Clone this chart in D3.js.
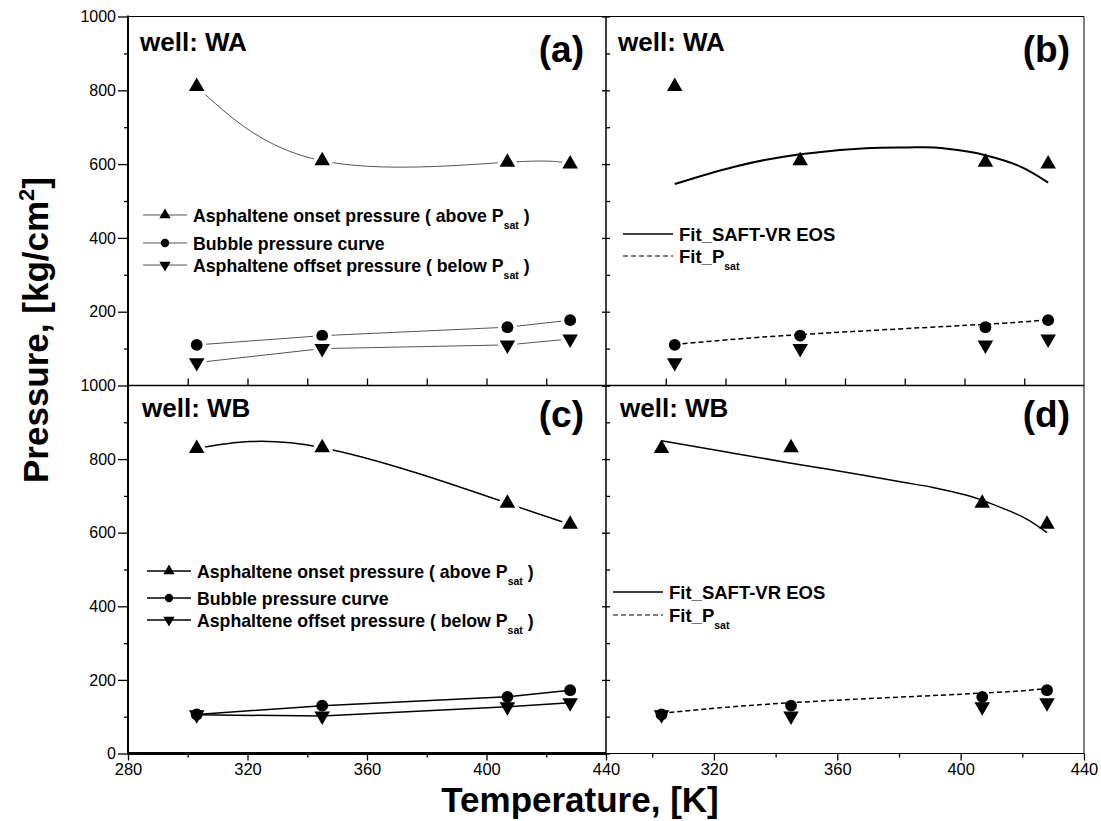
<!DOCTYPE html>
<html>
<head>
<meta charset="utf-8">
<script src="https://cdn.jsdelivr.net/npm/d3@7"></script>
<style>
  body { margin: 0; background: #fff; }
  text { font-family: "Liberation Sans", Arial, sans-serif; }
</style>
</head>
<body>
<script>
// measured temperatures (K)
const temps = [303, 345, 407, 428];

// well WA
const waOnset = [810, 609, 605, 600];
const waBubble = [110, 135, 158, 177];
const waOffset = [62, 100, 110, 126];

// well WB
const wbOnset = [829, 831, 680, 623];
const wbBubble = [106, 130, 154, 172];
const wbOffset = [105, 102, 127, 138];

// fitted curves
const waSaftT = [303, 323, 345, 367, 381, 390, 401, 407, 418, 428];
const waSaftP = [546, 593, 627, 643, 645, 645, 634, 624, 596, 550];
const waPsatFit = [111, 138, 166, 179];

const wbSaftT = [303, 325, 345, 359, 380, 391, 402, 407, 415, 422, 428];
const wbSaftP = [850, 818, 789, 770, 739, 723, 702, 688, 662, 634, 600];
const wbPsatFit = [109, 138, 164, 177];

const yMajor = [0, 200, 400, 600, 800, 1000];
const yMinor = [100, 300, 500, 700, 900];

const W = 1101, H = 821;
const svg = d3.select("body").append("svg")
  .attr("width", W).attr("height", H);

const xL = d3.scaleLinear().domain([280, 440]).range([128, 606]);
const xRT = d3.scaleLinear().domain([280, 440]).range([606, 1084]);
const xRB = d3.scaleLinear().domain([285, 440]).range([606, 1084]);
const yT = d3.scaleLinear().domain([0, 1000]).range([385.5, 16.5]);
const yB = d3.scaleLinear().domain([0, 1000]).range([753.5, 385.5]);

function marker(g, type, x, y, size, halo) {
  const sym = type === "circle" ? d3.symbol(d3.symbolCircle, size) : d3.symbol(d3.symbolTriangle, size);
  const rot = type === "down" ? " rotate(180)" : "";
  const m = g.append("path")
    .attr("d", sym())
    .attr("transform", `translate(${x},${y})${rot}`)
    .attr("fill", "#000");
  if (halo) {
    m.attr("stroke", "#fff").attr("stroke-width", 7).style("paint-order", "stroke");
  }
}

function drawLine(g, xs, ys, x, y, opt) {
  const line = d3.line()
    .x((d, i) => x(xs[i]))
    .y(d => y(d))
    .curve(opt.curve || d3.curveLinear);
  g.append("path")
    .datum(ys)
    .attr("d", line)
    .attr("fill", "none")
    .attr("stroke", opt.color || "#000")
    .attr("stroke-width", opt.width || 1)
    .attr("stroke-dasharray", opt.dash || null);
}

function drawPoints(g, vals, type, x, y, halo) {
  vals.forEach((v, i) => marker(g, type, x(temps[i]), y(v), type === "circle" ? 110 : 105, halo));
}

// ---------- data layers ----------
const plot = svg.append("g");

// (a)
drawLine(plot, temps, waOnset, xL, yT, {curve: d3.curveNatural, color: "#555", width: 1});
drawLine(plot, temps, waBubble, xL, yT, {color: "#555", width: 1});
drawLine(plot, temps, waOffset, xL, yT, {color: "#555", width: 1});
drawPoints(plot, waOnset, "up", xL, yT, true);
drawPoints(plot, waBubble, "circle", xL, yT, true);
drawPoints(plot, waOffset, "down", xL, yT, true);

// (b)
drawPoints(plot, waOnset, "up", xRT, yT, false);
drawPoints(plot, waBubble, "circle", xRT, yT, false);
drawPoints(plot, waOffset, "down", xRT, yT, false);
drawLine(plot, waSaftT, waSaftP, xRT, yT, {curve: d3.curveNatural, width: 2});
drawLine(plot, temps, waPsatFit, xRT, yT, {curve: d3.curveNatural, width: 1.5, dash: "5,3"});

// (c)
drawLine(plot, temps, wbOnset, xL, yB, {curve: d3.curveNatural, width: 1.5});
drawLine(plot, temps, wbBubble, xL, yB, {width: 1.5});
drawLine(plot, temps, wbOffset, xL, yB, {width: 1.5});
drawPoints(plot, wbOnset, "up", xL, yB, true);
drawPoints(plot, wbBubble, "circle", xL, yB, false);
drawPoints(plot, wbOffset, "down", xL, yB, false);

// (d)
drawPoints(plot, wbOnset, "up", xRB, yB, false);
drawPoints(plot, wbBubble, "circle", xRB, yB, false);
drawPoints(plot, wbOffset, "down", xRB, yB, false);
drawLine(plot, wbSaftT, wbSaftP, xRB, yB, {curve: d3.curveNatural, width: 1.5});
drawLine(plot, temps, wbPsatFit, xRB, yB, {curve: d3.curveNatural, width: 1.5, dash: "5,3"});

// ---------- frame ----------
const frame = svg.append("g").attr("stroke", "#000").attr("fill", "none");
function seg(x1, y1, x2, y2, w) {
  frame.append("line").attr("x1", x1).attr("y1", y1).attr("x2", x2).attr("y2", y2).attr("stroke-width", w);
}
seg(128, 16.5, 1084, 16.5, 1);
seg(1084, 16.5, 1084, 753.5, 1);
seg(606, 16.5, 606, 753.5, 1.5);
seg(128, 385.5, 1084, 385.5, 1.5);
seg(606, 753.5, 1084, 753.5, 1);
seg(128, 753.5, 606, 753.5, 3);
seg(128, 15.5, 128, 755, 2);

// ---------- axes ----------
function axis(gen, transform, fontSize) {
  const g = svg.append("g").attr("transform", transform).call(gen);
  g.select(".domain").remove();
  g.selectAll(".tick line").attr("stroke", "#000").attr("stroke-width", 1.3);
  if (fontSize) {
    g.selectAll(".tick text").attr("fill", "#000").style("font-size", fontSize + "px")
      .style("font-family", "'Liberation Sans', Arial, sans-serif");
  } else {
    g.selectAll(".tick text").remove();
  }
  return g;
}
const fmt = d3.format("d");

// left y axes
axis(d3.axisLeft(yT).tickValues(yMajor.filter(v => v > 0)).tickSize(10).tickPadding(2).tickFormat(fmt), "translate(128,0)", 16);
axis(d3.axisLeft(yT).tickValues(yMinor).tickSize(4), "translate(128,0)");
axis(d3.axisLeft(yB).tickValues(yMajor).tickSize(10).tickPadding(2).tickFormat(fmt), "translate(128,0)", 16);
axis(d3.axisLeft(yB).tickValues(yMinor).tickSize(4), "translate(128,0)");

// middle divider ticks
[yT, yB].forEach(y => {
  axis(d3.axisRight(y).tickValues(yMajor.concat(yMinor)).tickSize(4), "translate(606,0)");
  axis(d3.axisLeft(y).tickValues(yMajor).tickSize(4), "translate(606,0)");
});

// top panels bottom axis: inward ticks
axis(d3.axisTop(xL).tickValues(d3.range(300, 440, 20)).tickSize(7), "translate(0,385.5)");
axis(d3.axisTop(xRT).tickValues(d3.range(300, 440, 20)).tickSize(7), "translate(0,385.5)");

// bottom axes
axis(d3.axisBottom(xL).tickValues([280, 320, 360, 400, 440]).tickSize(7).tickPadding(3).tickFormat(fmt), "translate(0,753.5)", 16.5);
axis(d3.axisBottom(xL).tickValues([300, 340, 380, 420]).tickSize(4), "translate(0,753.5)");
axis(d3.axisBottom(xRB).tickValues([320, 360, 400, 440]).tickSize(7).tickPadding(3).tickFormat(fmt), "translate(0,753.5)", 16.5);
axis(d3.axisBottom(xRB).tickValues([300, 340, 380, 420]).tickSize(4), "translate(0,753.5)");

// ---------- axis titles ----------
const yTitle = svg.append("text")
  .attr("transform", "translate(48,330) rotate(-90)")
  .attr("text-anchor", "middle")
  .style("font-size", "35px").style("font-weight", "bold");
yTitle.append("tspan").text("Pressure, [kg/cm");
yTitle.append("tspan").attr("dy", -14).style("font-size", "22px").text("2");
yTitle.append("tspan").attr("dy", 14).text("]");

svg.append("text")
  .attr("x", 580).attr("y", 812)
  .attr("text-anchor", "middle")
  .style("font-size", "35px").style("font-weight", "bold")
  .text("Temperature, [K]");

// ---------- panel labels ----------
const panelText = [
  {well: "well: WA", tag: "(a)", wx: 140, wy: 51, tx: 584, ty: 62},
  {well: "well: WA", tag: "(b)", wx: 618, wy: 51, tx: 1070, ty: 62},
  {well: "well: WB", tag: "(c)", wx: 142, wy: 417, tx: 584, ty: 427},
  {well: "well: WB", tag: "(d)", wx: 620, wy: 417, tx: 1070, ty: 427}
];
panelText.forEach(p => {
  svg.append("text").attr("x", p.wx).attr("y", p.wy)
    .style("font-size", "26px").style("font-weight", "bold").text(p.well);
  svg.append("text").attr("x", p.tx).attr("y", p.ty).attr("text-anchor", "end")
    .style("font-size", "37px").style("font-weight", "bold").text(p.tag);
});

// ---------- legends ----------
function subLabel(g, x, y, before, after, size) {
  const t = g.append("text").attr("x", x).attr("y", y)
    .style("font-size", size + "px").style("font-weight", "bold");
  t.append("tspan").text(before);
  t.append("tspan").attr("dy", 7).style("font-size", "10.5px").text("sat");
  if (after) t.append("tspan").attr("dy", -7).text(after);
}

function markerLegend(x0, rows, color, lw) {
  const g = svg.append("g");
  const types = ["up", "circle", "down"];
  rows.forEach((ry, i) => {
    g.append("line").attr("x1", x0).attr("x2", x0 + 44).attr("y1", ry).attr("y2", ry)
      .attr("stroke", color).attr("stroke-width", lw);
    marker(g, types[i], x0 + 22, ry, 55, false);
  });
  const tx = x0 + 50;
  subLabel(g, tx, rows[0] + 6.5, "Asphaltene onset pressure ( above P", " )", 17.7);
  g.append("text").attr("x", tx).attr("y", rows[1] + 6.5)
    .style("font-size", "17.7px").style("font-weight", "bold").text("Bubble pressure curve");
  subLabel(g, tx, rows[2] + 6.5, "Asphaltene offset pressure ( below P", " )", 17.7);
}
markerLegend(143, [215, 243, 265], "#555", 1);
markerLegend(147, [571, 598, 620], "#000", 1.5);

function fitLegend(x0, y0, y1) {
  const g = svg.append("g");
  g.append("line").attr("x1", x0).attr("x2", x0 + 50).attr("y1", y0).attr("y2", y0)
    .attr("stroke", "#000").attr("stroke-width", 1.5);
  g.append("line").attr("x1", x0).attr("x2", x0 + 50).attr("y1", y1).attr("y2", y1)
    .attr("stroke", "#000").attr("stroke-width", 1.2).attr("stroke-dasharray", "5,3");
  g.append("text").attr("x", x0 + 56).attr("y", y0 + 6.5)
    .style("font-size", "18.5px").style("font-weight", "bold").text("Fit_SAFT-VR EOS");
  subLabel(g, x0 + 56, y1 + 6.5, "Fit_P", null, 18.5);
}
fitLegend(623, 234, 256);
fitLegend(613, 592, 615);
</script>
</body>
</html>
